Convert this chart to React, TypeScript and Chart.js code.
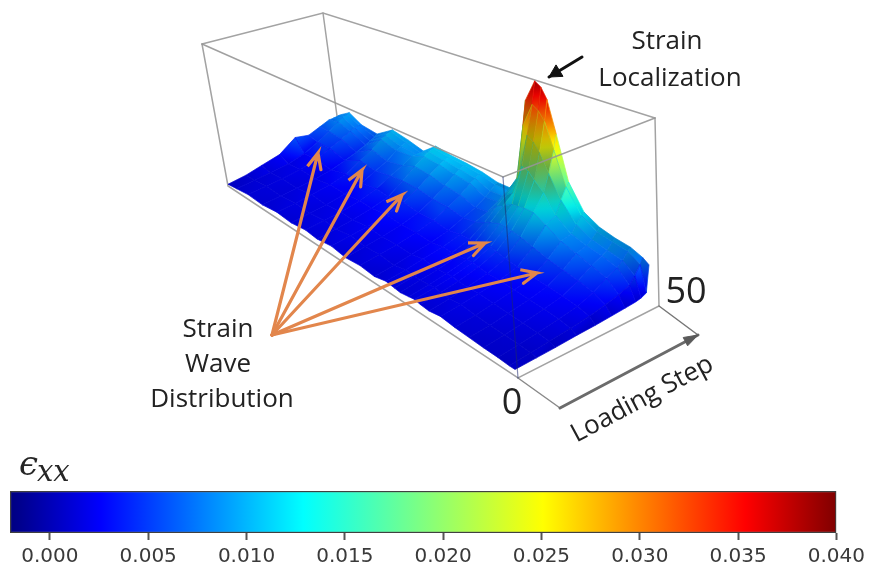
import React, { useEffect, useRef } from "react";
import Chart from "chart.js/auto";

// Long-axis position of each column (fraction of specimen length)
const positions = [0, .03, .07, .12, .17, .22, .27, .31, .36, .41, .46, .51, .55, .58, .60, .63, .65, .67, .70, .74, .79, .84, .89, .94, .98, 1];
const loadingSteps = [50, 49, 47, 45, 41, 36, 30, 23, 15, 8, 0];

// Strain (x 1e-3) read along each loading step
const step50 = [7.4, 9.5, 7.5, 7, 10.4, 9.6, 8.5, 11.5, 10.9, 10.7, 10.3, 9.5, 9.6, 14, 33, 38.5, 37.5, 35, 27.5, 17.4, 12, 10.2, 9.4, 9, 8, 7.1];
const step49 = [7.3, 9.2, 7.6, 6.4, 10.2, 9.2, 8.2, 11.2, 10.7, 10.4, 10, 9.2, 9.2, 13, 27, 33, 32, 30, 24, 16.5, 11.5, 9.5, 8.8, 8.4, 6.8, 1.4];
const step47 = [7.2, 8.8, 7.4, 5.8, 9.6, 8.6, 8.4, 10.8, 10.4, 10, 9.6, 8.2, 8.4, 11.5, 14.5, 26, 25, 23, 19, 14, 10, 8.3, 7.6, 7, 5, 0.9];
const step45 = [7.2, 8, 7, 5.2, 9, 8, 8.4, 10, 9.8, 9.2, 8.8, 7.2, 7.6, 10.5, 11.5, 19, 18.5, 17, 15, 11, 8.5, 7.5, 7, 6, 3.6, 0.7];
const step41 = [6.2, 6.2, 5.8, 4.2, 7.2, 6.2, 7.0, 8.5, 8.2, 7.4, 7, 5.8, 6.3, 8.8, 9.5, 11, 11.2, 11.5, 11.5, 10, 8, 7, 6, 5, 2.8, 0.6];
const step36 = [5, 4.4, 4.4, 3.2, 5.5, 4.8, 5.6, 6, 6, 5.4, 5.3, 4.7, 5.2, 6.2, 7, 7.8, 7.8, 7.6, 7.2, 6.4, 5.4, 4.8, 4.2, 3.4, 2.2, 0.5];
const step30 = [6, 2.6, 2.8, 2.2, 3.4, 3.1, 3.9, 3.5, 4.2, 3.6, 3.8, 3.3, 3.9, 3.9, 4.2, 4.8, 4.9, 4.5, 4.0, 3.6, 3.2, 3.0, 2.7, 2.3, 1.6, 0.4];
const step23 = [2.8, 1.5, 1.9, 1.6, 2.4, 2.2, 2.7, 2.5, 3.0, 2.6, 2.8, 2.4, 3.0, 2.8, 2.8, 3.2, 3.3, 3.0, 2.7, 2.7, 2.4, 2.2, 2.0, 1.7, 1.2, 0.4];
const step15 = [1.8, 1.2, 1.5, 1.3, 1.9, 1.6, 2.0, 1.8, 2.3, 1.9, 2.1, 1.8, 2.4, 2.1, 2.0, 2.3, 2.4, 2.1, 1.9, 2.1, 1.8, 1.6, 1.4, 1.2, 0.9, 0.3];
const step8 = [0.9, 1.0, 1.3, 1.1, 1.6, 1.3, 1.7, 1.4, 1.9, 1.5, 1.7, 1.3, 1.9, 1.6, 1.5, 1.7, 1.9, 1.6, 1.4, 1.7, 1.3, 1.1, 0.9, 0.8, 0.6, 0.3];
const step0 = [0.5, 0.8, 1.2, 0.9, 1.4, 1.0, 1.5, 1.1, 1.6, 1.0, 1.3, 0.9, 1.5, 1.2, 1.0, 1.3, 1.5, 1.2, 1.0, 1.4, 1.0, 0.8, 0.6, 0.5, 0.3, 0.3];
const strainRows = [step50, step49, step47, step45, step41, step36, step30, step23, step15, step8, step0];

const colorbarTicks = [0, 0.005, 0.01, 0.015, 0.02, 0.025, 0.03, 0.035, 0.04];
const strainMin = -0.00203;
const strainMax = 0.04;

// Jet colour stops
const jetStops: [number, number, number, number][] = [
  [0, 0, 0, 128], [0.11, 0, 0, 255], [0.355, 0, 255, 255], [0.5, 128, 255, 128],
  [0.645, 255, 255, 0], [0.89, 255, 0, 0], [1, 128, 0, 0],
];

// Drawing frame of the picture
const boxTop = { a: [202, 44], b: [323, 13], c: [655, 118], d: [503, 177] };
const boxBase = { a: [228, 186], b: [340, 138], c: [659, 306], d: [518, 378] };
const floor = { f0: [228, 186], f1: [515, 371], b0: [340, 138], b1: [649, 298] };
const heightPerUnit = { f0: 3525, f1: 5025, b0: 3125, b1: 4675 };
const planeFront = [560, 408];
const planeBack = [698, 335];

const waveTail = [272, 335];
const waveTips = [[318, 153], [362, 170], [402, 195], [485, 243], [537, 273]];
const localizationArrow = { tail: [582, 57], tip: [549, 77] };

function jet(z: number, shade = 1) {
  const t = Math.max(0, Math.min(1, (z - strainMin) / (strainMax - strainMin)));
  for (let i = 1; i < jetStops.length; i++) {
    if (t <= jetStops[i][0]) {
      const a = jetStops[i - 1], b = jetStops[i];
      const f = (t - a[0]) / (b[0] - a[0]);
      const ch = (k: number) => Math.round((a[k] + (b[k] - a[k]) * f) * shade);
      return `rgb(${ch(1)},${ch(2)},${ch(3)})`;
    }
  }
  return `rgb(${Math.round(128 * shade)},0,0)`;
}

function project(u: number, v: number, z: number) {
  const mix = (p: number, q: number, r: number, s: number) =>
    (1 - u) * (1 - v) * p + u * (1 - v) * q + (1 - u) * v * r + u * v * s;
  const bx = mix(floor.f0[0], floor.f1[0], floor.b0[0], floor.b1[0]);
  const by = mix(floor.f0[1], floor.f1[1], floor.b0[1], floor.b1[1]);
  const k = mix(heightPerUnit.f0, heightPerUnit.f1, heightPerUnit.b0, heightPerUnit.b1);
  return { x: bx, y: by - k * z };
}

function lineSet(points: number[][], color: string, width: number) {
  return {
    data: points.map(([x, y]) => ({ x, y })),
    showLine: true, borderColor: color, borderWidth: width, pointRadius: 0, fill: false,
    backgroundColor: color, borderCapStyle: "round", borderJoinStyle: "miter",
  };
}

function arrowPoints(tail: number[], tip: number[], len: number, spread: number) {
  const ang = Math.atan2(tail[1] - tip[1], tail[0] - tip[0]);
  const barb = (s: number) => [tip[0] + len * Math.cos(ang + s * spread), tip[1] + len * Math.sin(ang + s * spread)];
  return { b1: barb(1), b2: barb(-1) };
}

// Lighting of a grid vertex: slopes facing left and front are darker
function vertexShade(r: number, c: number) {
  const cl = Math.max(0, c - 1), cr = Math.min(positions.length - 1, c + 1);
  const rb = Math.max(0, r - 1), rf = Math.min(loadingSteps.length - 1, r + 1);
  const row = strainRows[r];
  const dzdu = (row[cr] - row[cl]) / 1000 / (positions[cr] - positions[cl]);
  const dzdv = (strainRows[rb][c] - strainRows[rf][c]) / 1000 / ((loadingSteps[rb] - loadingSteps[rf]) / 50);
  const z = row[c] / 1000;
  if (z > 0.028) return 0.92;
  if (r <= 1 && dzdu < -0.1) return 1;
  let s = Math.max(0.64, 1 - 1.6 * Math.max(0, dzdu) - 3.5 * Math.max(0, dzdv));
  if (positions[c] > 0.8 && r <= 1) s = Math.min(s, 0.82);
  return s;
}

function surfaceQuads() {
  const out: any[] = [];
  for (let r = 0; r < loadingSteps.length - 1; r++) {
    for (let c = 0; c < positions.length - 1; c++) {
      const v0 = loadingSteps[r] / 50, v1 = loadingSteps[r + 1] / 50;
      const u0 = positions[c], u1 = positions[c + 1];
      const z = [strainRows[r][c], strainRows[r][c + 1], strainRows[r + 1][c + 1], strainRows[r + 1][c]].map(n => n / 1000);
      const sh = [vertexShade(r, c), vertexShade(r, c + 1), vertexShade(r + 1, c + 1), vertexShade(r + 1, c)];
      const pts = [project(u0, v0, z[0]), project(u1, v0, z[1]), project(u1, v1, z[2]), project(u0, v1, z[3])];
      const loI = z.indexOf(Math.min(...z)), hiI = z.indexOf(Math.max(...z));
      const mean = (z[0] + z[1] + z[2] + z[3]) / 4;
      const meanSh = (sh[0] + sh[1] + sh[2] + sh[3]) / 4;
      out.push({
        data: [...pts, pts[0]],
        showLine: true, pointRadius: 0, fill: "shape", borderWidth: 0.7, borderColor: jet(mean, meanSh),
        backgroundColor: (ctx: any) => {
          const { chart } = ctx;
          const sx = chart.scales.x, sy = chart.scales.y;
          if (!sx || !sy) return jet(mean, meanSh);
          const c0 = [sx.getPixelForValue(pts[loI].x), sy.getPixelForValue(pts[loI].y),
                      sx.getPixelForValue(pts[hiI].x), sy.getPixelForValue(pts[hiI].y)];
          if (!c0.every(Number.isFinite)) return jet(mean, meanSh);
          const g = chart.ctx.createLinearGradient(c0[0], c0[1], c0[2], c0[3]);
          for (let i = 0; i <= 6; i++) {
            const f = i / 6;
            g.addColorStop(f, jet(z[loI] + (z[hiI] - z[loI]) * f, sh[loI] + (sh[hiI] - sh[loI]) * f));
          }
          return g;
        },
      });
    }
  }
  return out;
}

function buildDatasets() {
  const grey = "#a3a3a3";
  const paint: any[] = [];
  // back of the box
  paint.push(lineSet([boxTop.a, boxTop.b, boxTop.c], grey, 1.5));
  paint.push(lineSet([boxTop.b, boxBase.b], grey, 1.5));
  paint.push(lineSet([boxTop.a, boxBase.a, boxBase.d, boxBase.c, boxTop.c], grey, 1.5));
  // loading-step plane
  paint.push(lineSet([boxBase.d, planeFront], "#8a8a8a", 1.5));
  paint.push(lineSet([boxBase.c, planeBack], "#777777", 1.5));
  // surface
  paint.push(...surfaceQuads());
  // front of the box
  paint.push(lineSet([boxTop.a, boxTop.d, boxTop.c], "rgba(150,150,150,0.9)", 1.5));
  paint.push(lineSet([boxTop.d, boxBase.d], "rgba(30,40,110,0.55)", 1.2));
  // loading-step arrow
  const ls = arrowPoints(planeFront, planeBack, 15, 0.32);
  paint.push(lineSet([planeFront, planeBack], "#6b6b6b", 3));
  paint.push({ ...lineSet([planeBack, ls.b1, ls.b2, planeBack], "#5a5a5a", 1), fill: "shape" });
  // localization arrow
  const la = arrowPoints(localizationArrow.tail, localizationArrow.tip, 14, 0.5);
  paint.push(lineSet([localizationArrow.tail, localizationArrow.tip], "#111111", 3));
  paint.push({ ...lineSet([localizationArrow.tip, la.b1, la.b2, localizationArrow.tip], "#111111", 1), fill: "shape" });
  // wave arrows
  for (const tip of waveTips) {
    const h = arrowPoints(waveTail, tip, 17, 0.42);
    paint.push(lineSet([waveTail, tip, h.b1, tip, h.b2], "#e2864c", 3.2));
  }
  return paint.reverse();
}

const textStyle: React.CSSProperties = {
  position: "absolute", fontFamily: "'Open Sans', 'Noto Sans', sans-serif", color: "#222",
  whiteSpace: "nowrap", lineHeight: 1, transform: "translate(-50%,-50%)",
};

function Label({ x, y, size, text, rotate }: { x: number; y: number; size: number; text: string; rotate?: number }) {
  return (
    <div style={{ ...textStyle, left: x, top: y, fontSize: size, transform: `translate(-50%,-50%) rotate(${rotate || 0}deg)` }}>
      {text}
    </div>
  );
}

export default function App() {
  const plot = useRef<HTMLCanvasElement>(null);
  const bar = useRef<HTMLCanvasElement>(null);

  useEffect(() => {
    const main = new Chart(plot.current!, {
      type: "scatter",
      data: { datasets: buildDatasets() },
      options: {
        animation: false, responsive: false, events: [],
        layout: { padding: 0 },
        plugins: { legend: { display: false }, tooltip: { enabled: false } },
        scales: {
          x: { type: "linear", min: 0, max: 870, display: false },
          y: { type: "linear", min: 0, max: 570, reverse: true, display: false },
        },
      },
    } as any);
    const cb = new Chart(bar.current!, {
      type: "bar",
      data: {
        labels: ["strain"],
        datasets: [{
          data: [[strainMin, strainMax]],
          barPercentage: 1, categoryPercentage: 1,
          borderColor: "#404040", borderWidth: 1.5, borderSkipped: false,
          backgroundColor: (ctx: any) => {
            const { chart } = ctx;
            const sx = chart.scales.x;
            if (!sx || !Number.isFinite(sx.left) || !Number.isFinite(sx.right)) return "#00f";
            const g = chart.ctx.createLinearGradient(sx.left, 0, sx.right, 0);
            jetStops.forEach(s => g.addColorStop(s[0], `rgb(${s[1]},${s[2]},${s[3]})`));
            return g;
          },
        }],
      },
      options: {
        indexAxis: "y", animation: false, responsive: false, events: [],
        layout: { padding: { left: 10, right: 33, top: 11, bottom: 0 } },
        plugins: { legend: { display: false }, tooltip: { enabled: false } },
        scales: {
          y: { display: false },
          x: {
            type: "linear", min: strainMin, max: strainMax,
            afterBuildTicks: (s: any) => { s.ticks = colorbarTicks.map(value => ({ value })); },
            afterFit: (s: any) => { s.height = 37; },
            border: { display: false },
            grid: { drawOnChartArea: false, tickLength: 7, tickColor: "#555", tickWidth: 2 },
            ticks: {
              autoSkip: false, maxRotation: 0, padding: 5, color: "#3a3a3a",
              font: { family: "'DejaVu Sans'", size: 20 },
              callback: (v: any) => Number(v).toFixed(3),
            },
          },
        },
      },
    } as any);
    return () => { main.destroy(); cb.destroy(); };
  }, []);

  return (
    <div style={{ position: "absolute", left: 0, top: 0, width: 870, height: 570, overflow: "hidden", background: "#fff", filter: "blur(0.5px)" }}>
      <canvas ref={plot} width={870} height={570} style={{ position: "absolute", left: 0, top: 0, filter: "blur(0.5px)" }} />
      <canvas ref={bar} width={870} height={90} style={{ position: "absolute", left: 0, top: 480 }} />
      <Label x={667} y={39} size={26} text="Strain" />
      <Label x={670} y={76} size={26} text="Localization" />
      <Label x={218} y={327} size={26} text="Strain" />
      <Label x={218} y={362} size={26} text="Wave" />
      <Label x={222} y={397} size={26} text="Distribution" />
      <Label x={686} y={290} size={36} text="50" />
      <Label x={512} y={401} size={36} text="0" />
      <Label x={641} y={397} size={26} text="Loading Step" rotate={-28} />
      <div style={{ position: "absolute", left: 19, top: 446, fontFamily: "'DejaVu Serif'", fontStyle: "italic", fontSize: 34, lineHeight: 1, color: "#262626" }}>ϵ</div>
      <div style={{ position: "absolute", left: 37, top: 457, fontFamily: "'DejaVu Serif'", fontStyle: "italic", fontSize: 29, lineHeight: 1, color: "#262626" }}>xx</div>
    </div>
  );
}
